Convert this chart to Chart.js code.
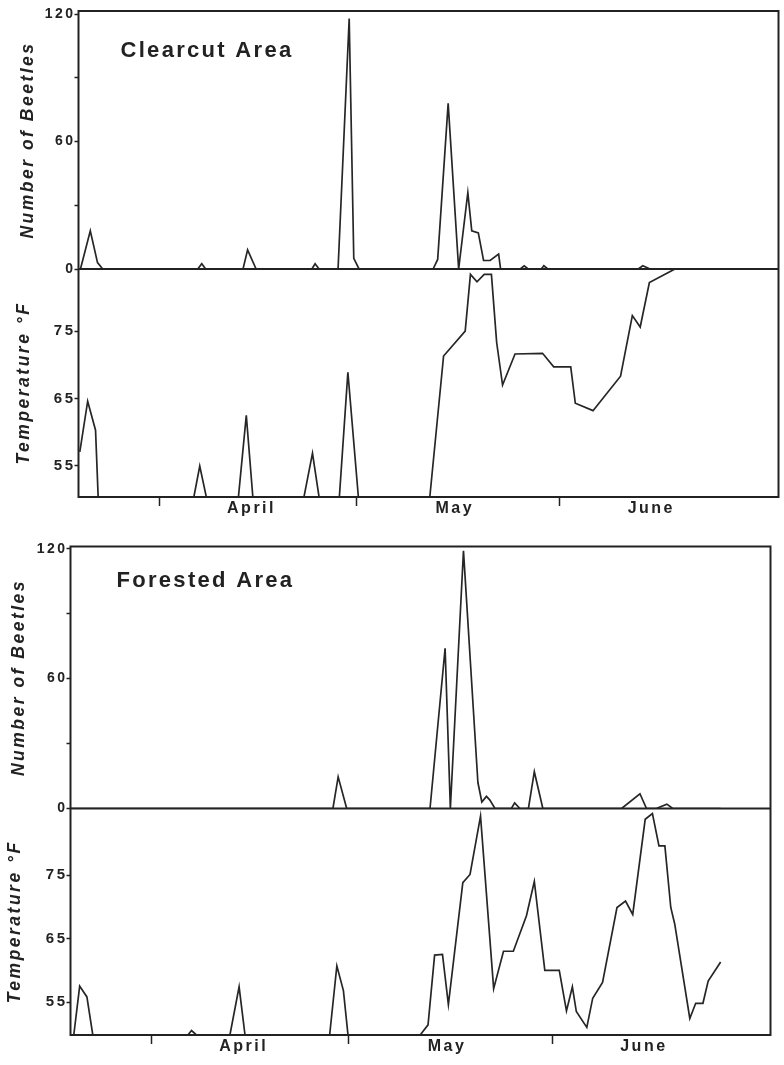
<!DOCTYPE html>
<html>
<head>
<meta charset="utf-8">
<title>Beetles and temperature, clearcut and forested area</title>
<script src="https://cdn.jsdelivr.net/npm/chart.js@4.4.1/dist/chart.umd.min.js"></script>
<style>
  html, body { margin: 0; padding: 0; background: #fff; }
  body { width: 784px; height: 1065px; position: relative; overflow: hidden; }
  .panel { position: absolute; left: 0; width: 784px; }
  #clearcut { top: 0; height: 532px; }
  #forest { top: 532px; height: 533px; }
</style>
</head>
<body>
<div class="panel" id="clearcut"><canvas id="clearcutChart"></canvas></div>
<div class="panel" id="forest"><canvas id="forestChart"></canvas></div>
<script>
// x values are days counted from the March/April tick (day 0)
const monthNames = ["April", "May", "June"];
const monthTickDays = [0, 30, 61];
const monthLabelDays = [14, 45, 75];
const beetleTicks = [0, 30, 60, 90, 120];
const beetleLabels = [0, 60, 120];
const tempTicks = [55, 65, 75];

// Clearcut area
const clearcutBeetleDays = [-12.1, -10.6, -9.5, -8.7, 5.8, 6.4, 7.0, 12.7, 13.4, 14.7, 23.2, 23.7, 24.3,
  27.2, 28.9, 29.6, 30.4, 41.7, 42.4, 44.0, 45.6, 47.0, 47.6, 48.6, 49.4, 50.4, 51.7, 52.0,
  55.0, 55.6, 56.2, 58.2, 58.6, 59.2, 73.0, 73.7, 74.8, 78.6];
const clearcutBeetles = [0, 18, 3, 0, 0, 2.5, 0, 0, 9, 0, 0, 2.5, 0,
  0, 118, 5, 0, 0, 4.5, 78, 0, 36, 18, 17, 4, 4, 7, 0,
  0, 1.5, 0, 0, 1.5, 0, 0, 1.5, 0, 0];
// readings below the bottom of the scale are given as 50.4
const clearcutTempDays = [-12.2, -11.0, -9.8, -9.4, 5.2, 6.1, 7.1, 12.0, 13.2, 14.2, 22.0, 23.3, 24.3,
  27.4, 28.7, 30.3, 41.2, 43.3, 46.6, 47.4, 48.4, 49.5, 50.6, 51.4, 52.3, 54.2, 58.4, 60.1,
  62.7, 63.4, 66.1, 70.3, 72.1, 73.3, 74.7, 78.6];
const clearcutTemps = [57.1, 64.6, 60.3, 50.4, 50.4, 55, 50.4, 50.4, 62.5, 50.4, 50.4, 56.9, 50.4,
  50.4, 68.9, 50.4, 50.4, 71.3, 75.0, 83.4, 82.3, 83.4, 83.4, 73.3, 67.0, 71.6, 71.7, 69.7,
  69.7, 64.3, 63.2, 68.3, 77.3, 75.6, 82.2, 84.2];

// Forested area
const forestBeetleDays = [-12.4, 27.6, 28.4, 29.7, 42.4, 44.7, 45.5, 47.5, 49.7, 50.3, 51.0, 51.5, 52.3,
  54.8, 55.3, 56.1, 57.4, 58.3, 59.6, 71.6, 74.4, 75.4, 76.9, 78.5, 79.4, 86.7];
const forestBeetles = [0, 0, 14.6, 0, 0, 74, 0, 119, 12, 3, 5.6, 4, 0,
  0, 2.6, 0, 0, 17, 0, 0, 6.8, 0, 0, 2, 0, 0];
// readings below the bottom of the scale are given as 49.8
const forestTempDays = [-12.4, -11.9, -11.0, -9.9, -9.0, 5.5, 6.05, 6.8, 11.9, 13.3, 14.2,
  27.1, 28.2, 29.2, 29.9, 40.9, 42.1, 43.1, 44.3, 45.2, 47.4, 48.5, 50.1, 52.1, 53.6,
  55.1, 57.1, 58.3, 59.9, 62.1, 63.2, 64.1, 64.7, 66.3, 67.2, 68.7, 70.9, 72.2, 73.3,
  75.2, 76.3, 77.3, 78.2, 79.1, 79.7, 82.0, 82.9, 84.0, 84.8, 86.7];
const forestTemps = [49.8, 49.8, 57.5, 55.8, 49.8, 49.8, 50.5, 49.8, 49.8, 57.4, 49.8,
  49.8, 60.7, 56.8, 49.8, 49.8, 51.4, 62.4, 62.5, 54.6, 73.8, 75.1, 84.3, 57.1, 63.0,
  63.0, 68.6, 74.0, 60.0, 60.0, 53.6, 57.4, 53.5, 51.0, 55.6, 58.1, 69.9, 70.9, 68.8,
  83.8, 84.7, 79.6, 79.6, 69.9, 67.3, 52.4, 54.8, 54.8, 58.3, 61.3];

const ink = "#222";
Chart.defaults.font.family = "'Liberation Sans', Arial, sans-serif";
Chart.defaults.font.weight = "bold";
Chart.defaults.color = ink;

// box round the plot, line between the two parts, and the area name
const panelFrame = {
  id: "panelFrame",
  beforeDraw(chart) {
    chart.ctx.letterSpacing = "2.5px";
  },
  afterDraw(chart, args, opts) {
    const { ctx, chartArea: a } = chart;
    const split = chart.scales.yb.bottom;
    ctx.save();
    ctx.strokeStyle = ink;
    ctx.lineWidth = 2;
    ctx.strokeRect(a.left, a.top, a.right - a.left, a.bottom - a.top);
    ctx.beginPath();
    ctx.moveTo(a.left, split);
    ctx.lineTo(a.right, split);
    ctx.stroke();
    ctx.fillStyle = ink;
    ctx.font = "bold 22px 'Liberation Sans', Arial, sans-serif";
    ctx.letterSpacing = "2.3px";
    ctx.textBaseline = "alphabetic";
    ctx.fillText(opts.text, a.left + opts.dx, a.top + opts.dy);
    ctx.restore();
  }
};

function points(days, values) {
  return days.map((d, i) => ({ x: d, y: values[i] }));
}

function makePanel(id, p) {
  new Chart(document.getElementById(id), {
    type: "line",
    data: {
      datasets: [
        { label: "Number of Beetles", data: points(p.beetleDays, p.beetles), yAxisID: "yb",
          borderColor: "#262626", borderWidth: 1.7, pointRadius: 0, tension: 0 },
        { label: "Temperature °F", data: points(p.tempDays, p.temps), yAxisID: "yt",
          borderColor: "#262626", borderWidth: 1.7, pointRadius: 0, tension: 0 }
      ]
    },
    options: {
      responsive: true,
      maintainAspectRatio: false,
      animation: false,
      layout: { padding: { top: p.padTop, right: p.padRight, left: 0, bottom: 0 } },
      plugins: {
        legend: { display: false },
        tooltip: { enabled: false },
        panelFrame: p.label
      },
      scales: {
        x: {
          type: "linear",
          min: p.xMin,
          max: p.xMax,
          afterBuildTicks: axis => {
            axis.ticks = monthTickDays.concat(monthLabelDays).sort((a, b) => a - b).map(v => ({ value: v }));
          },
          afterFit: axis => { axis.height = p.xAxisHeight; },
          ticks: {
            autoSkip: false,
            maxRotation: 0,
            padding: -7,
            font: { size: 16 },
            callback: v => {
              const i = monthLabelDays.indexOf(v);
              return i < 0 ? "" : monthNames[i];
            }
          },
          grid: {
            drawOnChartArea: false,
            tickLength: 9,
            tickWidth: 1.5,
            tickColor: c => (c.tick && monthTickDays.includes(c.tick.value)) ? ink : "rgba(0,0,0,0)"
          },
          border: { display: false }
        },
        yt: {
          type: "linear",
          position: "left",
          stack: "panel",
          stackWeight: p.tempWeight,
          weight: 1,
          min: p.tempMin,
          max: p.tempMax,
          afterBuildTicks: axis => { axis.ticks = tempTicks.map(v => ({ value: v })); },
          afterFit: axis => { axis.width = p.axisWidth; },
          ticks: { font: { size: 15 }, padding: -1 },
          grid: { drawOnChartArea: false, tickLength: 4, tickWidth: 1.5, tickColor: ink },
          border: { display: false },
          title: {
            display: true,
            text: "Temperature °F",
            font: { size: 17.5, style: "italic" },
            padding: { top: p.tempTitlePad, bottom: 0 }
          }
        },
        yb: {
          type: "linear",
          position: "left",
          stack: "panel",
          stackWeight: p.beetleWeight,
          weight: 2,
          min: 0,
          max: p.beetleMax,
          afterBuildTicks: axis => { axis.ticks = beetleTicks.map(v => ({ value: v })); },
          afterFit: axis => { axis.width = p.axisWidth; },
          ticks: {
            font: { size: 14 },
            padding: -1,
            callback: v => beetleLabels.includes(v) ? String(v) : ""
          },
          grid: { drawOnChartArea: false, tickLength: 4, tickWidth: 1.5, tickColor: ink },
          border: { display: false },
          title: {
            display: true,
            text: "Number of Beetles",
            font: { size: 17.5, style: "italic" },
            padding: { top: p.beetleTitlePad, bottom: 0 }
          }
        }
      }
    },
    plugins: [panelFrame]
  });
}

makePanel("clearcutChart", {
  beetleDays: clearcutBeetleDays, beetles: clearcutBeetles,
  tempDays: clearcutTempDays, temps: clearcutTemps,
  xMin: -12.4, xMax: 94.4,
  beetleMax: 121.5, tempMin: 50.4, tempMax: 84.2,
  beetleWeight: 258, tempWeight: 228,
  axisWidth: 78.5, padTop: 11, padRight: 5.5, xAxisHeight: 35,
  beetleTitlePad: 17.5, tempTitlePad: 13.5,
  label: { text: "Clearcut Area", dx: 42, dy: 45.7 }
});

makePanel("forestChart", {
  beetleDays: forestBeetleDays, beetles: forestBeetles,
  tempDays: forestTempDays, temps: forestTemps,
  xMin: -12.4, xMax: 94.3,
  beetleMax: 121, tempMin: 49.8, tempMax: 85.5,
  beetleWeight: 262, tempWeight: 226.5,
  axisWidth: 70.5, padTop: 14.5, padRight: 13.5, xAxisHeight: 30,
  beetleTitlePad: 8.5, tempTitlePad: 4.5,
  label: { text: "Forested Area", dx: 46, dy: 40.5 }
});
</script>
</body>
</html>
